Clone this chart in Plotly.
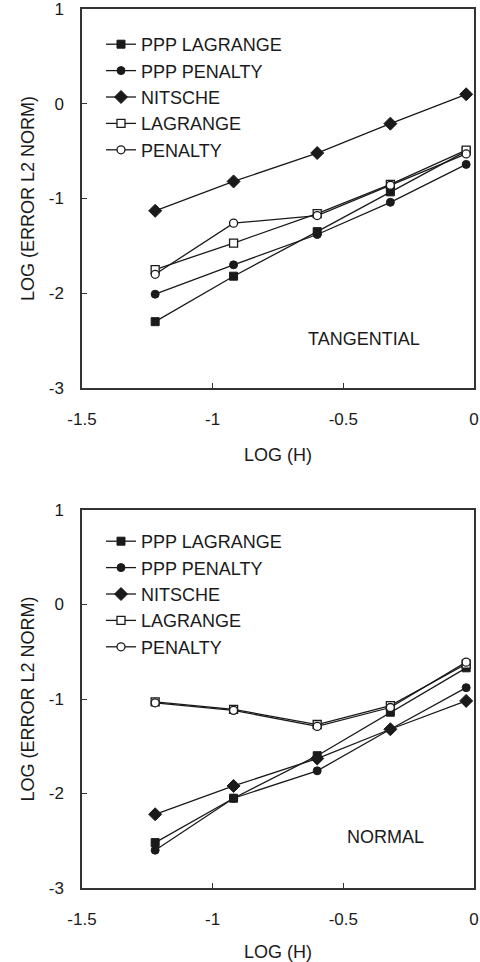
import plotly.graph_objects as go

log_h = [-1.22, -0.92, -0.60, -0.32, -0.03]
series_names = ["PPP LAGRANGE", "PPP PENALTY", "NITSCHE", "LAGRANGE", "PENALTY"]

tangential_ppp_lagrange = [-2.30, -1.82, -1.35, -0.93, -0.50]
tangential_ppp_penalty = [-2.01, -1.70, -1.38, -1.04, -0.64]
tangential_nitsche = [-1.13, -0.82, -0.52, -0.21, 0.10]
tangential_lagrange = [-1.75, -1.47, -1.16, -0.85, -0.49]
tangential_penalty = [-1.80, -1.26, -1.18, -0.86, -0.53]

normal_ppp_lagrange = [-2.52, -2.05, -1.60, -1.14, -0.67]
normal_ppp_penalty = [-2.60, -2.05, -1.76, -1.32, -0.88]
normal_nitsche = [-2.22, -1.92, -1.63, -1.32, -1.02]
normal_lagrange = [-1.03, -1.11, -1.27, -1.07, -0.63]
normal_penalty = [-1.04, -1.12, -1.29, -1.09, -0.61]

x_ticks = [-1.5, -1, -0.5, 0]
x_tick_labels = ["-1.5", "-1", "-0.5", "0"]
y_ticks = [1, 0, -1, -2, -3]
y_tick_labels = ["1", "0", "-1", "-2", "-3"]

panel_labels = ["TANGENTIAL", "NORMAL"]

INK = "#1a1a1a"
FONT = "Liberation Sans, Arial, sans-serif"

marker_styles = [
    dict(symbol="square", size=8, color=INK, line=dict(color=INK, width=1)),
    dict(symbol="circle", size=8, color=INK, line=dict(color=INK, width=1)),
    dict(symbol="diamond", size=10, color=INK, line=dict(color=INK, width=1)),
    dict(symbol="square", size=8, color="white", line=dict(color=INK, width=1.3)),
    dict(symbol="circle", size=8, color="white", line=dict(color=INK, width=1.3)),
]

fig = go.Figure()

panels = [
    [tangential_ppp_lagrange, tangential_ppp_penalty, tangential_nitsche, tangential_lagrange, tangential_penalty],
    [normal_ppp_lagrange, normal_ppp_penalty, normal_nitsche, normal_lagrange, normal_penalty],
]

for p, data in enumerate(panels):
    xa = "x" if p == 0 else "x2"
    ya = "y" if p == 0 else "y2"
    lg = "legend" if p == 0 else "legend2"
    for name, vals, ms in zip(series_names, data, marker_styles):
        fig.add_trace(go.Scatter(
            x=log_h, y=vals, name=name, mode="lines+markers",
            line=dict(color=INK, width=1.3), marker=ms,
            xaxis=xa, yaxis=ya, legend=lg, cliponaxis=False,
        ))

axis_common = dict(
    showgrid=False, zeroline=False, showline=True, linecolor="#333", linewidth=1.5,
    mirror=True, ticks="inside", ticklen=5, tickcolor="#333", tickwidth=1.3,
    tickfont=dict(family=FONT, size=17, color=INK), automargin=False,
    ticklabeloverflow="allow",
)

xdom = [82 / 480, 474 / 480]
ydom_top = [(962 - 388) / 962, (962 - 9) / 962]
ydom_bot = [(962 - 888) / 962, (962 - 510) / 962]

xcfg = dict(axis_common, range=[-1.5, 0], tickvals=x_ticks, ticktext=x_tick_labels,
            domain=xdom, ticklabelstandoff=15,
            title=dict(text="LOG (H)", font=dict(family=FONT, size=18, color=INK), standoff=20))
ycfg = dict(axis_common, range=[-3, 1], tickvals=y_ticks, ticktext=y_tick_labels,
            ticklabelstandoff=13,
            title=dict(text="LOG (ERROR L2 NORM)", font=dict(family=FONT, size=18, color=INK), standoff=9))

legend_common = dict(
    font=dict(family=FONT, size=18, color=INK), bgcolor="rgba(0,0,0,0)",
    xanchor="left", yanchor="top", x=101 / 480, tracegroupgap=0, itemwidth=30,
)

fig.update_layout(
    width=480, height=962, margin=dict(l=0, r=0, t=0, b=0),
    paper_bgcolor="white", plot_bgcolor="white",
    xaxis=dict(xcfg, anchor="y"),
    yaxis=dict(ycfg, domain=ydom_top, anchor="x"),
    xaxis2=dict(xcfg, anchor="y2"),
    yaxis2=dict(ycfg, domain=ydom_bot, anchor="x2"),
    legend=dict(legend_common, y=1 - 26 / 962),
    legend2=dict(legend_common, y=1 - 523 / 962),
    annotations=[
        dict(text=panel_labels[0], x=-0.42, y=-2.48, xref="x", yref="y", showarrow=False,
             font=dict(family=FONT, size=18, color=INK)),
        dict(text=panel_labels[1], x=-0.34, y=-2.46, xref="x2", yref="y2", showarrow=False,
             font=dict(family=FONT, size=18, color=INK)),
    ],
)

fig.write_html("out.html")
